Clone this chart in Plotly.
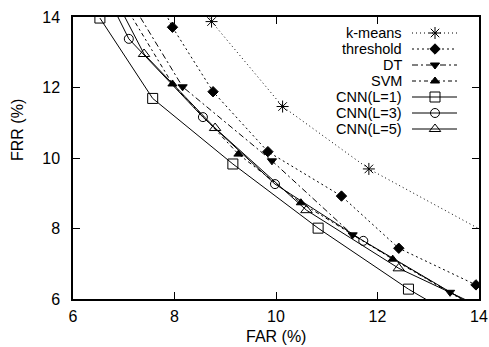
import plotly.graph_objects as go

# ---- data (FAR %, FRR %) ----
kmeans_far = [8.50, 8.73, 10.13, 11.83, 14.50]
kmeans_frr = [14.60, 13.87, 11.46, 9.69, 7.60]

thr_far = [7.65, 7.96, 8.76, 9.84, 11.29, 12.42, 13.94]
thr_frr = [14.60, 13.71, 11.88, 10.18, 8.92, 7.44, 6.40]

dt_far = [6.90, 8.16, 9.92, 11.51, 13.43, 14.20]
dt_frr = [15.00, 12.02, 9.92, 7.82, 6.19, 5.60]

svm_far = [6.74, 7.96, 9.26, 10.49, 12.30, 14.00]
svm_frr = [15.00, 12.10, 10.11, 8.73, 7.13, 5.70]

cnn1_far = [6.53, 7.57, 9.15, 10.83, 12.61, 13.30]
cnn1_frr = [13.97, 11.69, 9.83, 8.01, 6.28, 5.70]

cnn3_far = [6.54, 7.10, 8.56, 9.98, 11.72, 13.90]
cnn3_frr = [15.00, 13.38, 11.16, 9.26, 7.65, 5.80]

cnn5_far = [6.66, 7.40, 8.80, 10.60, 12.42, 14.00]
cnn5_frr = [15.00, 12.95, 10.85, 8.52, 6.87, 5.80]

names = ["k-means", "threshold", "DT", "SVM", "CNN(L=1)", "CNN(L=3)", "CNN(L=5)"]
xs = [kmeans_far, thr_far, dt_far, svm_far, cnn1_far, cnn3_far, cnn5_far]
ys = [kmeans_frr, thr_frr, dt_frr, svm_frr, cnn1_frr, cnn3_frr, cnn5_frr]

x_ticks = [6, 8, 10, 12, 14]
y_ticks = [6, 8, 10, 12, 14]

# ---- styles ----
dashes = ["1px,3px", "2px,3px", "6px,3px,2px,3px", "4px,3px,2px,3px", "solid", "solid", "solid"]
symbols = ["asterisk-open", "diamond", "triangle-down", "triangle-up",
           "square-open", "circle-open", "triangle-up-open"]
sizes = [10, 8, 8, 8, 10, 9, 10]

W, H = 489, 347
L, R, T, B = 73, 10, 17, 48
pw, ph = W - L - R, H - T - B

def px2paper_x(px):
    return (px - L) / pw

def px2paper_y(py):
    return (H - B - py) / ph

FONT = "Liberation Sans, Arial, sans-serif"

fig = go.Figure()
for n, x, y, d, s, sz in zip(names, xs, ys, dashes, symbols, sizes):
    fig.add_trace(go.Scatter(
        x=x, y=y, mode="lines+markers", name=n, showlegend=False,
        line=dict(color="black", width=1, dash=d),
        marker=dict(symbol=s, size=sz, color="black",
                    line=dict(color="black", width=1)),
    ))

# ---- manual gnuplot-style legend (text left, sample right) ----
row_top, row_step = 33, 16
seg_x0, seg_x1, seg_mid = px2paper_x(412), px2paper_x(457), px2paper_x(435)
text_x = px2paper_x(403)
annotations = []
for i, (n, d, s, sz) in enumerate(zip(names, dashes, symbols, sizes)):
    yy = px2paper_y(row_top + i * row_step)
    fig.add_trace(go.Scatter(
        x=[seg_x0, seg_x1], y=[yy, yy], mode="lines", xaxis="x2", yaxis="y2",
        showlegend=False, hoverinfo="skip",
        line=dict(color="black", width=1, dash=d)))
    fig.add_trace(go.Scatter(
        x=[seg_mid], y=[yy], mode="markers", xaxis="x2", yaxis="y2",
        showlegend=False, hoverinfo="skip",
        marker=dict(symbol=s, size=sz, color="black",
                    line=dict(color="black", width=1))))
    annotations.append(dict(x=text_x, y=yy, xref="paper", yref="paper",
                            text=n, showarrow=False, xanchor="right",
                            yanchor="middle", borderpad=0,
                            font=dict(family=FONT, size=14.5, color="black")))

annotations.append(dict(x=0.5, y=px2paper_y(336), xref="paper", yref="paper",
                        text="FAR (%)", showarrow=False, xanchor="center",
                        yanchor="middle", borderpad=0,
                        font=dict(family=FONT, size=16, color="black")))
annotations.append(dict(x=px2paper_x(17), y=px2paper_y(130), xref="paper", yref="paper",
                        text="FRR (%)", showarrow=False, textangle=-90,
                        xanchor="center", yanchor="middle", borderpad=0,
                        font=dict(family=FONT, size=16, color="black")))

axis_common = dict(showgrid=False, zeroline=False, showline=True, linecolor="black",
                   linewidth=1.5, mirror="ticks", ticks="inside", ticklen=7,
                   tickcolor="black", tickwidth=1, automargin=False,
                   tickfont=dict(family=FONT, size=16, color="black"))

fig.update_layout(
    width=W, height=H,
    margin=dict(l=L, r=R, t=T, b=B, pad=0, autoexpand=False),
    paper_bgcolor="white", plot_bgcolor="white",
    xaxis=dict(range=[6, 14], tickvals=x_ticks, ticktext=[str(v) for v in x_ticks],
               ticklabelstandoff=2, **axis_common),
    yaxis=dict(range=[6, 14], tickvals=y_ticks, ticktext=[str(v) for v in y_ticks],
               ticklabelstandoff=8, **axis_common),
    xaxis2=dict(range=[0, 1], overlaying="x", visible=False, fixedrange=True),
    yaxis2=dict(range=[0, 1], overlaying="y", visible=False, fixedrange=True),
    annotations=annotations,
    showlegend=False,
)

fig.write_html("out.html")
